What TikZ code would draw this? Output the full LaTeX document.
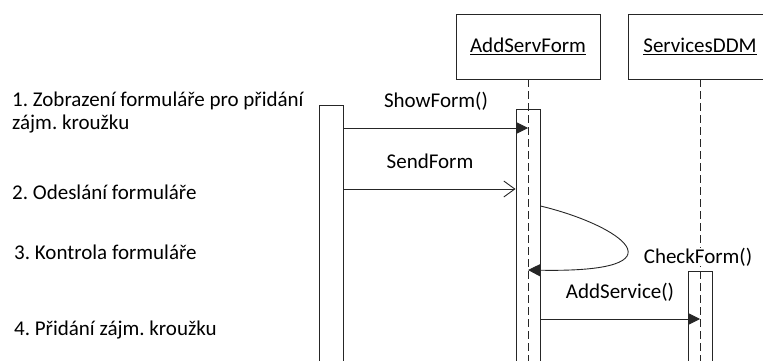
\documentclass[tikz,border=0pt]{standalone}
\usepackage{fontspec}
\setmainfont{Carlito}
\usetikzlibrary{arrows.meta}
\frenchspacing
\begin{document}
\begin{tikzpicture}[x=1pt,y=-1pt,
  font=\fontsize{21}{23.3}\selectfont,
  ln/.style={draw=black!85,line width=0.9pt},
  objbox/.style={ln,minimum width=144pt,minimum height=65pt,inner sep=0pt},
  actbar/.style={ln,minimum width=24pt,inner sep=0pt,anchor=north},
  lifeline/.style={ln,dash pattern=on 8pt off 4pt},
  txt/.style={inner sep=0pt,anchor=base west,align=left},
  lbl/.style={inner sep=0pt,anchor=base,fill=white},
  call/.style={ln,-{Triangle[length=12pt,width=12pt]}},
  send/.style={ln,-{Straight Barb[length=11pt,width=16pt]}}
]
\useasboundingbox (0,0) rectangle (763,361);

% objects
\node[objbox] (asf) at (528,46.5) {\underline{AddServForm}};
\node[objbox] (sdm) at (700,46.5) {\underline{ServicesDDM}};

% activation bars
\node[actbar,minimum height=280pt] (actL) at (331,105) {};
\node[actbar,minimum height=280pt] (actA) at (528,109) {};
\node[actbar,minimum height=120pt] (actS) at (700,271) {};

% lifelines
\coordinate (endA) at (528,370);
\coordinate (endS) at (700,370);
\draw[lifeline] (asf.south) -- (endA);
\draw[lifeline] (sdm.south) -- (endS);

% step descriptions
\node[txt] (t1) at (12,129.5) {1. Zobrazení formuláře pro přidání\\zájm. kroužku};
\node[txt] (t2) at (12,199) {2. Odeslání formuláře};
\node[txt] (t3) at (14,259.3) {3. Kontrola formuláře};
\node[txt] (t4) at (14,335.7) {4. Přidání zájm. kroužku};

% messages
\coordinate (m1s) at (actL.east |- 0,128);
\coordinate (m1e) at (actA.center |- 0,128);
\draw[call] (m1s) -- (m1e);
\node[lbl] (l1) at (436,107.3) {ShowForm()};

\coordinate (m2s) at (actL.east |- 0,189);
\coordinate (m2e) at (actA.west |- 0,189);
\draw[send] (m2s) -- (m2e);
\node[lbl] (l2) at (430,168.3) {SendForm};

\coordinate (m3s) at (actA.east |- 0,206);
\coordinate (m3e) at (actA.center |- 0,270);
\draw[call] (m3s) .. controls (620,225) and (690,273) .. (m3e);
\node[lbl] (l3) at (698,263.3) {CheckForm()};

\coordinate (m4s) at (actA.east |- 0,319);
\coordinate (m4e) at (actS.center |- 0,319);
\draw[call] (m4s) -- (m4e);
\node[lbl] (l4) at (620,298.3) {AddService()};
\end{tikzpicture}
\end{document}
